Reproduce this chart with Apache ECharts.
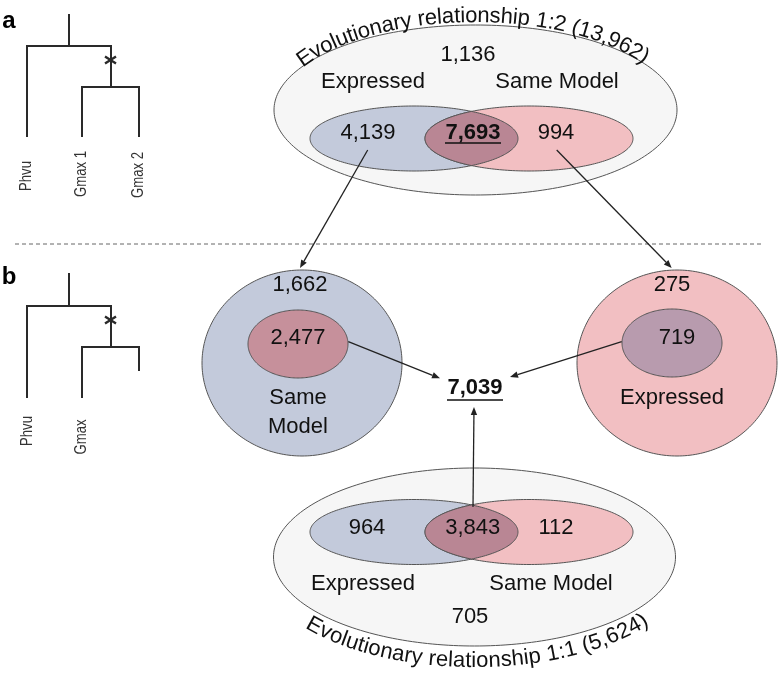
<!DOCTYPE html>
<html><head><meta charset="utf-8">
<script src="https://cdn.jsdelivr.net/npm/echarts@6/dist/echarts.min.js"></script>
<style>html,body{margin:0;padding:0;background:#fff}#c{width:778px;height:676px}</style>
</head><body><div id="c"></div>
<script>
// ---------------- DATA ----------------
const setLabels = ['Expressed', 'Same Model'];
// order: outside both sets, expressed only, both, same model only
const counts12 = [1136, 4139, 7693, 994];
const counts11 = [705, 964, 3843, 112];
const expressedOnlySplit = [1662, 2477];   // expressed-only 1:2 genes: rest, same model
const modelOnlySplit = [275, 719];         // same-model-only 1:2 genes: rest, expressed
const combinedTotal = [7039];
const relationTitles = ['Evolutionary relationship 1:2', 'Evolutionary relationship 1:1'];
const relationTotals = [13962, 5624];
const tree12Labels = ['Phvu', 'Gmax 1', 'Gmax 2'];
const tree11Labels = ['Phvu', 'Gmax'];
const panelLetters = ['a', 'b'];

// ---------------- STYLE / LAYOUT ----------------
const FF = '"Liberation Sans", Arial, Helvetica, sans-serif';
const F22 = '22px ' + FF, F22B = 'bold 22px ' + FF;
const COL = {blue:'#c3cadb', red:'#f2bfc2', lens:'#b98694', outer:'#f6f6f6',
  innerL:'#c6909b', innerR:'#b89bae', stroke:'#555', ink:'#111', tree:'#2a2a2a'};
const fmt = n => n.toLocaleString('en-US');

const els = [];
function ellipsePts(cx, cy, rx, ry, n) {
  const p = []; n = n || 240;
  for (let i = 0; i < n; i++) { const t = 2*Math.PI*i/n; p.push([cx+rx*Math.cos(t), cy+ry*Math.sin(t)]); }
  return p;
}
function ellipse(cx, cy, rx, ry, fill, z) {
  els.push({type:'polygon', z: z||1, shape:{points: ellipsePts(cx,cy,rx,ry)},
    style:{fill, stroke:COL.stroke, lineWidth:1}});
}
// lens between two ellipses of equal radii, same cy
function lens(cx1, cx2, cy, rx, ry, fill, z) {
  const xm = (cx1+cx2)/2;
  const t0 = Math.acos((xm-cx1)/rx);
  const p = [];
  const n = 80;
  for (let i = 0; i <= n; i++) { const t = -t0 + 2*t0*i/n; p.push([cx1+rx*Math.cos(t), cy+ry*Math.sin(t)]); }
  const t1 = Math.acos((xm-cx2)/rx);
  for (let i = 0; i <= n; i++) { const t = t1 + (2*Math.PI-2*t1)*i/n; p.push([cx2+rx*Math.cos(t), cy+ry*Math.sin(t)]); }
  els.push({type:'polygon', z: z||2, shape:{points:p}, style:{fill, stroke:COL.stroke, lineWidth:1}});
}
function txt(s, x, y, font, opt) {
  opt = opt || {};
  els.push({type:'text', z: opt.z||10, x, y, rotation: opt.rot||0, scaleX: opt.sx||1,
    style:{text:s, font, fill: opt.fill||COL.ink, align:'center', verticalAlign:'middle'}});
}
function underline(x1, x2, y) {
  els.push({type:'line', z:10, shape:{x1, y1:y, x2, y2:y}, style:{stroke:COL.ink, lineWidth:1.6}});
}
function arrow(x1, y1, x2, y2) {
  const L = 8, W = 3.2, a = Math.atan2(y2-y1, x2-x1);
  const bx = x2 - L*Math.cos(a), by = y2 - L*Math.sin(a);
  els.push({type:'line', z:12, shape:{x1, y1, x2:bx, y2:by}, style:{stroke:'#222', lineWidth:1.3}});
  els.push({type:'polygon', z:12, shape:{points:[[x2,y2],[bx - W*Math.sin(a), by + W*Math.cos(a)],[bx + W*Math.sin(a), by - W*Math.cos(a)]]},
    style:{fill:'#222'}});
}
function poly(points, w) {
  els.push({type:'polyline', z:5, shape:{points}, style:{stroke:COL.tree, lineWidth:w||2, fill:null}});
}
function cross(x, y) {
  poly([[x-5.5,y-3.5],[x+5.5,y+3.5]], 2.4);
  poly([[x-5.5,y+3.5],[x+5.5,y-3.5]], 2.4);
}
const measCtx = document.createElement('canvas').getContext('2d');
function arcText(str, cx, cy, rx, ry, lower, font, shift) {
  measCtx.font = font;
  const N = 3000, pts = [], cum = [0];
  for (let i = 0; i <= N; i++) {
    const u = Math.PI*i/N, t = lower ? Math.PI - u : Math.PI + u;
    pts.push([cx+rx*Math.cos(t), cy+ry*Math.sin(t)]);
    if (i > 0) cum.push(cum[i-1] + Math.hypot(pts[i][0]-pts[i-1][0], pts[i][1]-pts[i-1][1]));
  }
  const chars = [...str];
  const widths = chars.map(ch => measCtx.measureText(ch).width);
  const W = widths.reduce((a,b)=>a+b, 0);
  let s = cum[N]/2 - W/2 + shift;
  chars.forEach((ch, k) => {
    const sc = s + widths[k]/2; s += widths[k];
    let i = 1; while (i < N && cum[i] < sc) i++;
    const f = (sc - cum[i-1])/(cum[i]-cum[i-1]);
    const x = pts[i-1][0] + f*(pts[i][0]-pts[i-1][0]);
    const y = pts[i-1][1] + f*(pts[i][1]-pts[i-1][1]);
    const a = Math.max(1, i-3), b = Math.min(N, i+3);
    const tx = pts[b][0]-pts[a][0], ty = pts[b][1]-pts[a][1];
    if (ch !== ' ') txt(ch, x, y, font, {rot: Math.atan2(-ty, tx)});
  });
}

// ---------------- PANEL LETTERS + DIVIDER ----------------
txt(panelLetters[0], 9, 21, 'bold 24px ' + FF, {fill:'#000'});
txt(panelLetters[1], 9, 277, 'bold 24px ' + FF, {fill:'#000'});
els.push({type:'line', z:1, shape:{x1:15, y1:244, x2:763, y2:244}, style:{stroke:'#666', lineWidth:1, lineDash:[4,3]}});

// ---------------- TREES ----------------
poly([[69,14],[69,46]]);
poly([[27,137],[27,46],[111,46],[111,87]]);
poly([[82,137],[82,87],[139,87],[139,137]]);
cross(110.5, 60);
const treeLblFont = '16px ' + FF;
[[27,176],[82,174],[139,175]].forEach((p,i)=>txt(tree12Labels[i], p[0], p[1], treeLblFont, {rot:Math.PI/2, sx:0.82, fill:'#333'}));
poly([[69,273],[69,306]]);
poly([[27,398],[27,306],[111,306],[111,347]]);
poly([[82,398],[82,347],[139,347],[139,371]]);
cross(110.5, 320);
[[28,431],[82,437]].forEach((p,i)=>txt(tree11Labels[i], p[0], p[1], treeLblFont, {rot:Math.PI/2, sx:0.82, fill:'#333'}));

// ---------------- PANEL a VENN (1:2) ----------------
ellipse(475.5, 110, 201.5, 85, COL.outer, 1);
ellipse(414, 138.5, 104, 32.5, COL.blue, 2);
ellipse(529, 138.5, 104, 32.5, COL.red, 3);
lens(414, 529, 138.5, 104, 32.5, COL.lens, 4);
arcText(relationTitles[0] + ' (' + fmt(relationTotals[0]) + ')', 475.5, 110, 204, 94, false, F22, -3);
txt(fmt(counts12[0]), 468, 55, F22);
txt(setLabels[0], 373, 82, F22);
txt(setLabels[1], 557, 82, F22);
txt(fmt(counts12[1]), 368, 133, F22);
txt(fmt(counts12[2]), 473, 133, F22B);
underline(445, 501, 143);
txt(fmt(counts12[3]), 556, 133, F22);

// ---------------- PANEL b: split circles ----------------
ellipse(302, 363, 100, 93, COL.blue, 1);
ellipse(298, 344, 50, 34, COL.innerL, 2);
txt(fmt(expressedOnlySplit[0]), 300, 285, F22);
txt(fmt(expressedOnlySplit[1]), 298, 338, F22);
txt('Same', 298, 398, F22);
txt('Model', 298, 427, F22);

ellipse(677, 363, 100, 93, COL.red, 1);
ellipse(672, 343, 50, 34, COL.innerR, 2);
txt(fmt(modelOnlySplit[0]), 672, 285, F22);
txt(fmt(modelOnlySplit[1]), 677, 338, F22);
txt(setLabels[0], 672, 398, F22);

txt(fmt(combinedTotal[0]), 475, 388, F22B);
underline(447, 503, 400);

// ---------------- PANEL b VENN (1:1) ----------------
ellipse(474.5, 557, 201, 89, COL.outer, 1);
ellipse(414, 532, 104, 32.5, COL.blue, 2);
ellipse(529, 532, 104, 32.5, COL.red, 3);
lens(414, 529, 532, 104, 32.5, COL.lens, 4);
arcText(relationTitles[1] + ' (' + fmt(relationTotals[1]) + ')', 474.5, 557, 214, 104, true, F22, 3);
txt(fmt(counts11[1]), 367, 528, F22);
txt(fmt(counts11[2]), 472.7, 528, F22);
txt(fmt(counts11[3]), 556, 528, F22);
txt(setLabels[0], 363, 584, F22);
txt(setLabels[1], 551, 584, F22);
txt(fmt(counts11[0]), 470, 617, F22);

// ---------------- ARROWS ----------------
arrow(367.7, 150, 300, 268);
arrow(556.7, 150, 671.7, 268);
arrow(348.3, 341.7, 440, 378.3);
arrow(621.7, 341.7, 510, 377);
arrow(473, 507, 474, 407);

const chart = echarts.init(document.getElementById('c'), null, {renderer:'canvas', width:778, height:676});
chart.setOption({animation:false, backgroundColor:'#fff', graphic:{elements: els}});
</script></body></html>
